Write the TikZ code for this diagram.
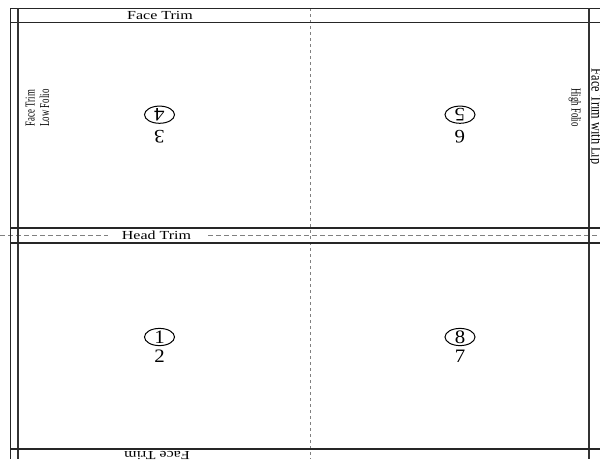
\documentclass[tikz,border=0pt]{standalone}
\usepackage{fontspec}
\setmainfont{Liberation Serif}
\usetikzlibrary{calc}

\begin{document}
\begin{tikzpicture}[
    x=1pt, y=-1pt,
    trim/.style={font=\fontsize{12.3}{14}\selectfont, xscale=1.3, inner sep=0pt},
    folio/.style={font=\fontsize{8.8}{9.4}\selectfont, xscale=1.55, align=center, inner sep=0pt},
    pagenum/.style={font=\fontsize{19}{20}\selectfont, xscale=1.1, inner sep=0pt},
    ring/.style={line width=1pt},
    hairline/.style={line width=0.8pt, black!85},
    cutline/.style={line width=1.5pt, black!85},
    spine/.style={line width=2.4pt, black!80},
    fold/.style={gray, line width=1pt, dash pattern=on 3pt off 3pt},
    headfold/.style={gray, line width=1pt, dash pattern=on 4.5pt off 3.5pt}
]
    \useasboundingbox (0,0) rectangle (600,459);
    \clip (0,0) rectangle (600,459);

    % folds
    \draw[fold] (310,8) -- (310,459);
    \draw[headfold] (0,235) -- (600,235);

    % trim labels
    \node[trim, anchor=base] (facetop) at (160,19.3) {Face Trim};
    \node[trim, anchor=base, fill=white, inner xsep=10.5pt] (headtrim) at (156.5,239.3) {Head Trim};
    \node[trim, anchor=base, rotate=180] (facebot) at (157,451) {Face Trim};
    \node[trim, anchor=base, rotate=-90] (lip) at (591.5,116.7) {Face Trim with Lip};

    % folio labels
    \node[folio, rotate=90] (lowfolio) at (37.5,108) {Face Trim\\Low Folio};
    \node[folio, rotate=-90] (highfolio) at (575,107.5) {High Folio};

    % sheet edges
    \draw[hairline] (10,8) -- (600,8);
    \draw[cutline] (10,22.5) -- (600,22.5);
    \draw[hairline] (10,8) -- (10,459);
    \draw[spine] (18,8) -- (18,459);
    \draw[spine] (589,8) -- (589,459);
    \draw[cutline] (10,228) -- (600,228);
    \draw[cutline] (10,243) -- (600,243);
    \draw[cutline] (10,449) -- (600,449);

    % page numbers, upper pages turned
    \node[pagenum, rotate=180] (p4) at (159.5,114.7) {4};
    \node[pagenum, rotate=180] (p3) at (159.5,136.3) {3};
    \node[pagenum, rotate=180] (p5) at (460,114.7) {5};
    \node[pagenum, rotate=180] (p6) at (460,136.3) {6};
    \node[pagenum] (p1) at (159.5,337) {1};
    \node[pagenum] (p2) at (159.5,356.7) {2};
    \node[pagenum] (p8) at (460,337) {8};
    \node[pagenum] (p7) at (460,356.7) {7};

    \foreach \n in {p4,p5,p1,p8}
        \draw[ring] (\n) ellipse [x radius=15, y radius=8.6];
\end{tikzpicture}
\end{document}
